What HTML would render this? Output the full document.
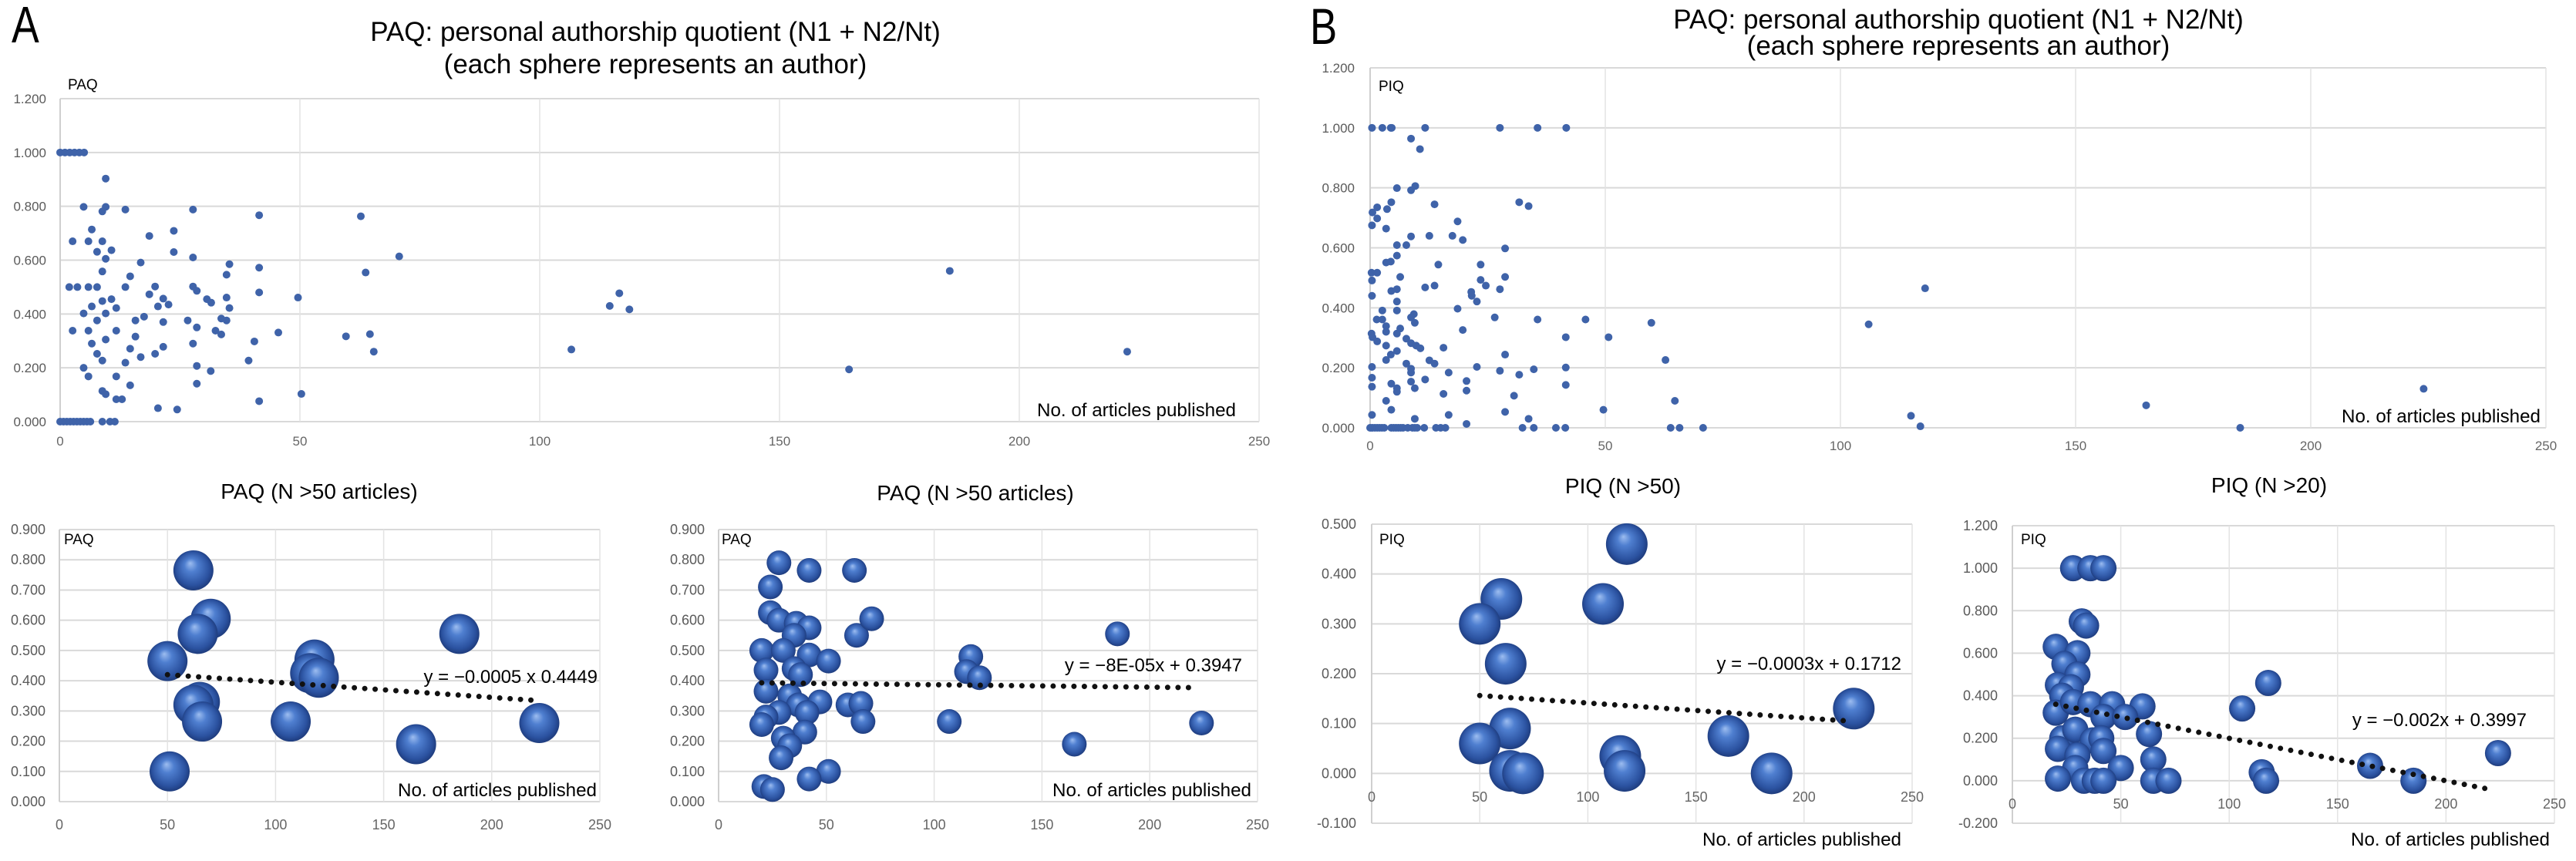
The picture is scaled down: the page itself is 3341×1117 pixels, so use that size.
<!DOCTYPE html>
<html><head><meta charset="utf-8"><style>
html,body{margin:0;padding:0;background:#fff;}
svg{display:block;}
text{font-family:"Liberation Sans",Arial,sans-serif;}
</style></head><body>
<svg id="fig" width="3341" height="1117" viewBox="0 0 3341 1117" xmlns="http://www.w3.org/2000/svg">
<defs>
<radialGradient id="sph" cx="50%" cy="50%" r="55%" fx="42%" fy="32%">
<stop offset="0" stop-color="#9dbdf0"/>
<stop offset="0.3" stop-color="#4f7fd0"/>
<stop offset="0.75" stop-color="#2b52a0"/>
<stop offset="1" stop-color="#1a3470"/>
</radialGradient>
</defs>
<text x="0" y="0" font-size="67" transform="translate(15,55) scale(0.8,1)">A</text>
<text x="0" y="0" font-size="66" transform="translate(1699,57) scale(0.8,1)">B</text>
<text x="850" y="53" font-size="35" text-anchor="middle">PAQ: personal authorship quotient (N1 + N2/Nt)</text>
<text x="850" y="95" font-size="35" text-anchor="middle">(each sphere represents an author)</text>
<text x="2540" y="37" font-size="35" text-anchor="middle">PAQ: personal authorship quotient (N1 + N2/Nt)</text>
<text x="2540" y="71" font-size="35" text-anchor="middle">(each sphere represents an author)</text>
<text x="414" y="647" font-size="28" text-anchor="middle">PAQ (N &gt;50 articles)</text>
<text x="1265" y="649" font-size="28" text-anchor="middle">PAQ (N &gt;50 articles)</text>
<text x="2105" y="640" font-size="28" text-anchor="middle">PIQ (N &gt;50)</text>
<text x="2943" y="639" font-size="28" text-anchor="middle">PIQ (N &gt;20)</text>
</svg>
<script>
// ---------- data ----------
const xTicks = [0, 50, 100, 150, 200, 250];
const topAX = [0,1,2,3,4,5, 9.5, 4.9,9.5,8.8,13.6,27.7,41.5,62.7, 6.6,2.6,5.9,8.8,18.6,23.7,
 7.7,10.7,9.5,23.7,27.7,16.8,8.8,35.3,34.7,41.5,14.6,
 1.9,3.6,5.9,7.7,13.6,19.8,18.6,27.7,28.5,41.5,49.6,
 8.8,10.7,6.6,11.7,4.9,9.5,7.7,21.5,20.4,22.6,30.6,31.5,34.7,35.3,
 15.7,17.5,21.5,26.6,28.5,33.6,34.7,32.4,33.6,
 2.6,5.9,11.7,6.6,9.5,15.7,27.7,7.7,8.8,14.6,16.8,19.8,21.5,13.6,
 40.5,45.5,39.3,28.5,31.4,4.9,5.9,11.7,14.6,28.5,8.8,9.5,11.7,12.9,20.4,24.4,41.5,50.3,
 0,0.7,1.4,2.1,2.8,3.5,4.2,4.9,5.6,6.3,8.8,10.4,11.4,
 70.7,63.7,59.6,64.6,65.4,106.6,114.6,116.6,118.7,164.5,185.5,222.5];
const topAY = [1,1,1,1,1,1, 0.903, 0.798,0.798,0.781,0.788,0.788,0.767,0.763, 0.714,0.67,0.67,0.67,0.69,0.709,
 0.631,0.637,0.605,0.63,0.61,0.591,0.558,0.585,0.546,0.572,0.54,
 0.5,0.5,0.5,0.5,0.5,0.502,0.473,0.502,0.486,0.48,0.461,
 0.448,0.455,0.428,0.422,0.402,0.402,0.376,0.457,0.428,0.435,0.455,0.442,0.461,0.422,
 0.376,0.39,0.37,0.376,0.35,0.383,0.376,0.338,0.324,
 0.338,0.338,0.338,0.29,0.305,0.316,0.29,0.252,0.227,0.271,0.24,0.252,0.278,0.219,
 0.298,0.331,0.227,0.207,0.188,0.2,0.168,0.168,0.135,0.141,0.114,0.102,0.083,0.083,0.05,0.045,0.076,0.103,
 0,0,0,0,0,0,0,0,0,0,0,0,0,
 0.614,0.554,0.317,0.325,0.26,0.268,0.43,0.477,0.417,0.194,0.56,0.26];
const topBX = [0.4,2.6,4.4,4.6,11.7,27.6,35.6,41.7, 8.7,10.6, 5.7,8.7,9.6, 4.5,13.7,31.7,33.7,
 1.5,0.5,3.6,1.5,0.4,3.4,18.6, 8.7,12.6,17.5,19.7, 5.7,7.7, 28.7, 5.7,3.4,4.4, 14.5,23.5,
 0.3,1.5,0.4, 6.4, 28.7, 23.5,24.6, 27.6, 11.7,13.7, 4.5,5.7, 21.5,21.6,22.7, 0.4, 5.7,5.7, 18.6,
 2.6,1.4,2.6, 9.3,8.7,9.5, 26.5,35.6,45.8,59.8, 3.4,3.4,6.4,5.7, 19.7, 0.3,0.5,1.5,
 7.7,8.7,9.8,10.7, 15.6, 41.6,50.7, 3.4, 5.7,4.4,3.4, 28.7, 12.6,13.7, 62.8, 7.7,8.7,8.7, 0.4,
 22.7,27.6,31.7,34.8,41.6, 16.7, 11.7, 0.4,0.4, 4.5,5.7,5.7, 8.7,9.5, 20.5,20.5, 41.6, 15.6, 30.6, 64.8,
 3.4,4.5, 0.4, 28.7, 49.6, 16.7, 33.7, 9.5, 20.5,
 0,0.5,1,1.5,2,2.5,3,4.5,5,5.5,6,6.5,7,8,9,9.5,10,11.5,14,15,16,32.4,34.8,39.5,41.5,63.9,65.8,70.8,
 106,118,115,117,165,185,224];
const topBY = [1,1,1,1,1,1,1,1, 0.964,0.929, 0.799,0.792,0.806, 0.752,0.745,0.752,0.739,
 0.735,0.718,0.729,0.698,0.675,0.664,0.688, 0.638,0.64,0.64,0.626, 0.609,0.609, 0.598, 0.574,0.551,0.554, 0.544,0.544,
 0.517,0.517,0.491, 0.503, 0.503, 0.493,0.474, 0.462, 0.468,0.474, 0.456,0.462, 0.453,0.44,0.421, 0.44, 0.421,0.391, 0.397,
 0.391,0.361,0.361, 0.379,0.368,0.35, 0.368,0.361,0.361,0.35, 0.339,0.32,0.331,0.314, 0.326, 0.314,0.302,0.288,
 0.297,0.282,0.274,0.265, 0.267, 0.302,0.302, 0.274, 0.256,0.244,0.226, 0.244, 0.225,0.214, 0.226, 0.214,0.197,0.184, 0.203,
 0.203,0.19,0.177,0.195,0.201, 0.184, 0.161, 0.167,0.137, 0.147,0.132,0.12, 0.154,0.132, 0.156,0.124, 0.143, 0.113, 0.107, 0.09,
 0.09,0.06, 0.043, 0.053, 0.06, 0.043, 0.03, 0.03, 0.013,
 0,0,0,0,0,0,0,0,0,0,0,0,0,0,0,0,0,0,0,0,0,0,0,0,0,0,0,0,
 0.345,0.465,0.04,0.005,0.075,0,0.13];
const a2X = [62,70,64,50,118,116,120,65,62,66,107,185,165,222,51];
const a2Y = [0.765,0.605,0.555,0.465,0.47,0.425,0.41,0.33,0.32,0.265,0.265,0.555,0.19,0.26,0.1];
const a2Trend = [-0.0005, 0.4449];
const a2TrendRange = [50, 222];
const a3X = [28,42,63,24,24,28,36,42,35,64,71,20,30,42,51,22,35,38,22,33,37,47,60,66,28,41,22,20,67,107,40,30,33,29,51,42,21,25,117,115,121,185,165,224];
const a3Y = [0.79,0.765,0.765,0.71,0.625,0.6,0.59,0.575,0.55,0.55,0.605,0.5,0.5,0.485,0.465,0.435,0.44,0.42,0.365,0.35,0.32,0.33,0.32,0.325,0.295,0.295,0.28,0.255,0.265,0.265,0.23,0.21,0.185,0.145,0.1,0.075,0.05,0.04,0.48,0.43,0.41,0.555,0.19,0.26];
const a3Trend = [-0.00008, 0.3947];
const a3TrendRange = [20, 222];
const b2X = [118,60,50,107,62,64,50,64,70,115,117,165,185,223];
const b2Y = [0.46,0.35,0.3,0.34,0.22,0.09,0.06,0.005,0.0,0.035,0.005,0.075,0.0,0.13];
const b2Trend = [-0.0003, 0.1712];
const b2TrendRange = [50, 222];
const b3X = [28,36,42,32,34,20,30,24,30,21,27,23,20,28,36,46,60,42,52,63,23,29,37,41,21,30,42,29,50,21,33,38,42,65,65,72,106,118,115,117,165,185,224];
const b3Y = [1.0,1.0,1.0,0.75,0.73,0.63,0.6,0.55,0.5,0.45,0.44,0.4,0.32,0.37,0.36,0.36,0.35,0.3,0.3,0.22,0.2,0.24,0.19,0.2,0.15,0.12,0.14,0.06,0.06,0.01,0.0,0.0,0.0,0.1,0.0,0.0,0.34,0.46,0.04,0.0,0.07,0.0,0.13];
const b3Trend = [-0.002, 0.3997];
const b3TrendRange = [20, 220];
const ticksTop = [0, 0.2, 0.4, 0.6, 0.8, 1.0, 1.2];
const ticksA2 = [0, 0.1, 0.2, 0.3, 0.4, 0.5, 0.6, 0.7, 0.8, 0.9];
const ticksB2 = [-0.1, 0, 0.1, 0.2, 0.3, 0.4, 0.5];
const ticksB3 = [-0.2, 0, 0.2, 0.4, 0.6, 0.8, 1.0, 1.2];

// ---------- drawing ----------
const NS = 'http://www.w3.org/2000/svg';
const svg = document.getElementById('fig');
function mk(tag, attrs, parent) {
  const e = document.createElementNS(NS, tag);
  for (const k in attrs) e.setAttribute(k, attrs[k]);
  (parent || svg).appendChild(e);
  return e;
}
function chart(c) {
  const g = mk('g', {});
  
  
  const ymin = c.yt[0], ymax = c.yt[c.yt.length - 1];
  const sx = v => c.x0 + (v / 250) * (c.x1 - c.x0);
  const sy = v => c.yb + (v - ymin) / (ymax - ymin) * (c.yt0 - c.yb);
  c.yt.forEach(t => {
    const l = mk('line', {x1: c.x0, x2: c.x1, y1: sy(t), y2: sy(t), stroke: '#d9d9d9', 'stroke-width': 2}, g);
    
    
    const tx = mk('text', {x: c.ylx, y: sy(t) + 6, 'font-size': c.fs, fill: '#5a5a5a', 'text-anchor': 'end'}, g);
    tx.textContent = t.toFixed(3);
    
    
  });
  xTicks.forEach(t => {
    const l = mk('line', {x1: sx(t), x2: sx(t), y1: sy(ymax), y2: sy(ymin), stroke: t === 0 ? '#cfcfcf' : '#e3e3e3', 'stroke-width': t === 0 ? 2 : 1.5}, g);
    
    
    const tx = mk('text', {x: sx(t), y: c.xly, 'font-size': c.fs, fill: '#666', 'text-anchor': 'middle'}, g);
    tx.textContent = String(t);
    
    
  });
  const yl = mk('text', {x: c.ylabX, y: c.ylabY, 'font-size': 19, fill: '#000'}, g);
  yl.textContent = c.ylab;
  
  
  const xl = mk('text', {x: c.xlabX, y: c.xlabY, 'font-size': 24, fill: '#000', 'text-anchor': 'end', textLength: 258, lengthAdjust: 'spacingAndGlyphs'}, g);
  xl.textContent = 'No. of articles published';
  
  
  c.xs.forEach((xv, i) => {
    const p = mk('circle', {cx: sx(xv), cy: sy(c.ys[i]), r: c.r, fill: c.bubble ? 'url(#sph)' : '#3f63a9'}, g);
    
    
  });
  if (c.trend) {
    const xa = c.range[0], xb = c.range[1];
    const tl = mk('line', {x1: sx(xa), y1: sy(c.trend[1] + c.trend[0] * xa), x2: sx(xb), y2: sy(c.trend[1] + c.trend[0] * xb), stroke: '#111', 'stroke-width': 7, 'stroke-linecap': 'round', 'stroke-dasharray': '0 13.5'}, g);
    
    
    const eq = mk('text', {x: c.eqX, y: c.eqY, 'font-size': 24, fill: '#000', 'text-anchor': 'end'}, g);
    eq.textContent = c.eq;
    
    
  }
}
chart({name: 'chart-a1-paq-all', x0: 78, x1: 1633, yb: 547, yt0: 128, yt: ticksTop, ylx: 60, xly: 578, fs: 17,
  xs: topAX, ys: topAY, r: 5, bubble: false, ylab: 'PAQ', ylabX: 88, ylabY: 116, xlabX: 1603, xlabY: 540});
chart({name: 'chart-b1-piq-all', x0: 1777, x1: 3302, yb: 555, yt0: 88, yt: ticksTop, ylx: 1757, xly: 584, fs: 17,
  xs: topBX, ys: topBY, r: 5, bubble: false, ylab: 'PIQ', ylabX: 1788, ylabY: 118, xlabX: 3295, xlabY: 548});
chart({name: 'chart-a2-paq-n50', x0: 77, x1: 778, yb: 1040, yt0: 687, yt: ticksA2, ylx: 59, xly: 1076, fs: 18,
  xs: a2X, ys: a2Y, r: 26, bubble: true, ylab: 'PAQ', ylabX: 83, ylabY: 706, xlabX: 774, xlabY: 1033,
  trend: a2Trend, range: a2TrendRange, eq: 'y = \u22120.0005 x 0.4449', eqX: 775, eqY: 886});
chart({name: 'chart-a3-paq-n50', x0: 932, x1: 1631, yb: 1040, yt0: 687, yt: ticksA2, ylx: 914, xly: 1076, fs: 18,
  xs: a3X, ys: a3Y, r: 16, bubble: true, ylab: 'PAQ', ylabX: 936, ylabY: 706, xlabX: 1623, xlabY: 1033,
  trend: a3Trend, range: a3TrendRange, eq: 'y = \u22128E-05x + 0.3947', eqX: 1611, eqY: 871});
chart({name: 'chart-b2-piq-n50', x0: 1779, x1: 2480, yb: 1068, yt0: 680, yt: ticksB2, ylx: 1759, xly: 1040, fs: 18,
  xs: b2X, ys: b2Y, r: 27, bubble: true, ylab: 'PIQ', ylabX: 1789, ylabY: 706, xlabX: 2466, xlabY: 1097,
  trend: b2Trend, range: b2TrendRange, eq: 'y = \u22120.0003x + 0.1712', eqX: 2466, eqY: 869});
chart({name: 'chart-b3-piq-n20', x0: 2610, x1: 3313, yb: 1068, yt0: 682, yt: ticksB3, ylx: 2591, xly: 1049, fs: 18,
  xs: b3X, ys: b3Y, r: 17, bubble: true, ylab: 'PIQ', ylabX: 2621, ylabY: 706, xlabX: 3307, xlabY: 1097,
  trend: b3Trend, range: b3TrendRange, eq: 'y = \u22120.002x + 0.3997', eqX: 3277, eqY: 942});
</script>
</body></html>
